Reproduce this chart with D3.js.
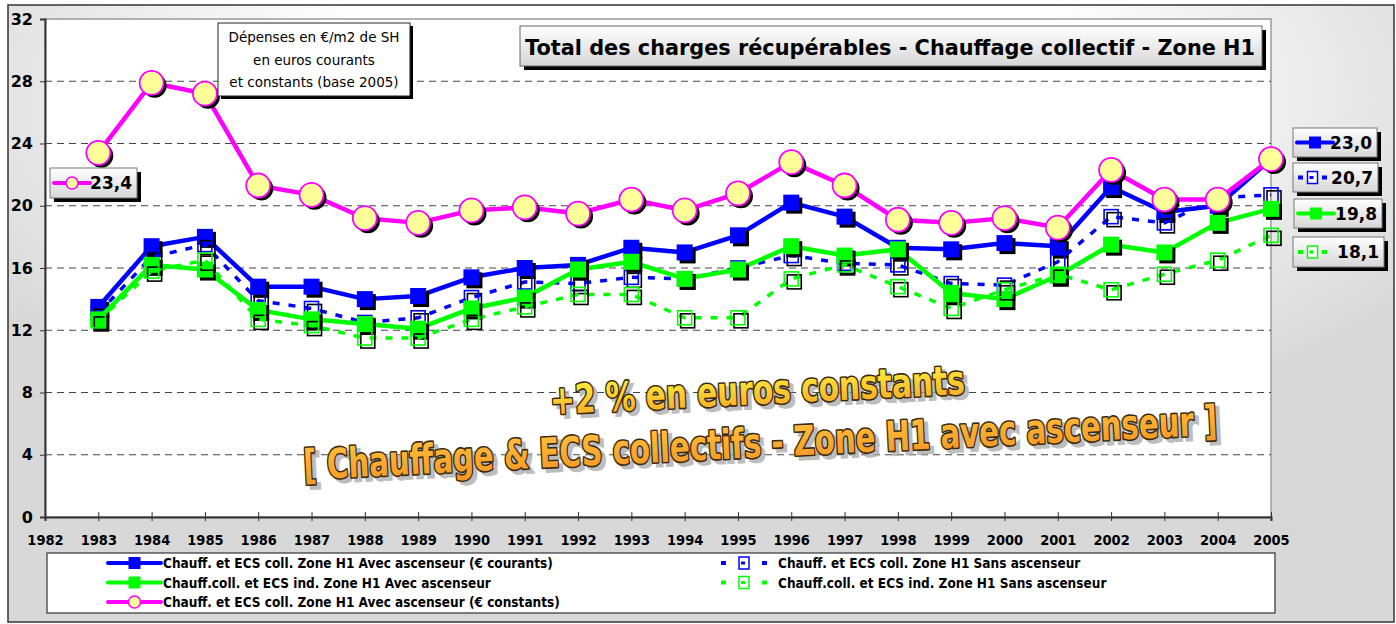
<!DOCTYPE html>
<html>
<head>
<meta charset="utf-8">
<script src="https://cdn.jsdelivr.net/npm/d3@7"></script>
<style>
  body { margin: 0; background: #fff; }
  svg { display: block; font-family: "DejaVu Sans", sans-serif; }
</style>
</head>
<body>
<svg width="1396" height="624"></svg>
<script>
// values (€/m2 de SH)
const years = [1983, 1984, 1985, 1986, 1987, 1988, 1989, 1990, 1991, 1992, 1993, 1994,
               1995, 1996, 1997, 1998, 1999, 2000, 2001, 2002, 2003, 2004, 2005];
const blueAvec = [13.5, 17.4, 18.0, 14.8, 14.8, 14.0, 14.2, 15.4, 16.0, 16.2, 17.3, 17.0,
                  18.1, 20.2, 19.3, 17.3, 17.2, 17.6, 17.4, 21.2, 19.6, 20.0, 23.0];
const blueSans = [13.1, 16.7, 17.5, 13.9, 13.4, 12.5, 12.8, 14.1, 15.1, 15.0, 15.4, 15.3,
                  16.0, 16.8, 16.3, 16.2, 15.0, 14.9, 16.4, 19.3, 18.9, 20.5, 20.7];
const greenAvec = [12.7, 16.2, 15.9, 13.3, 12.7, 12.4, 12.1, 13.4, 14.1, 15.9, 16.4, 15.3,
                   15.9, 17.4, 16.8, 17.2, 14.4, 14.0, 15.5, 17.5, 17.0, 18.9, 19.8];
const greenSans = [12.6, 15.8, 16.5, 12.7, 12.3, 11.5, 11.5, 12.7, 13.5, 14.3, 14.3, 12.8,
                   12.8, 15.3, 16.2, 14.8, 13.4, 14.6, 15.6, 14.6, 15.6, 16.5, 18.1];
const constants = [23.4, 27.9, 27.2, 21.3, 20.7, 19.2, 18.9, 19.7, 19.9, 19.5, 20.4, 19.7,
                   20.8, 22.8, 21.3, 19.1, 18.9, 19.2, 18.6, 22.3, 20.4, 20.4, 23.0];

const xTicks = d3.range(1982, 2006);
const yTicks = [0, 4, 8, 12, 16, 20, 24, 28, 32];

const seriesNames = [
  "Chauff. et ECS coll. Zone H1 Avec ascenseur (€ courants)",
  "Chauff. et ECS coll. Zone H1 Sans ascenseur",
  "Chauff.coll. et ECS ind. Zone H1 Avec ascenseur",
  "Chauff.coll. et ECS ind. Zone H1 Sans ascenseur",
  "Chauff. et ECS coll. Zone H1 Avec ascenseur (€ constants)"
];

const titleText = "Total des charges récupérables - Chauffage collectif - Zone H1";
const noteLines = ["Dépenses en €/m2 de SH", "en euros courants", "et constants (base 2005)"];
const bigLine1 = "+2 % en euros constants";
const bigLine2 = "[ Chauffage & ECS collectifs - Zone H1 avec ascenseur ]";

const series = [
  {name: seriesNames[0], values: blueAvec, color: "#0000ff", dashed: false, marker: "square"},
  {name: seriesNames[1], values: blueSans, color: "#0000ff", dashed: true, marker: "hollow"},
  {name: seriesNames[2], values: greenAvec, color: "#00ff00", dashed: false, marker: "square"},
  {name: seriesNames[3], values: greenSans, color: "#00ff00", dashed: true, marker: "hollow"},
  {name: seriesNames[4], values: constants, color: "#ff00ff", dashed: false, marker: "circle"}
];

const svg = d3.select("svg");
const defs = svg.append("defs");

const bg = defs.append("radialGradient").attr("id", "bg")
    .attr("cx", 0.5).attr("cy", 0.15).attr("r", 0.62);
bg.append("stop").attr("offset", 0.45).attr("stop-color", "#ffffff");
bg.append("stop").attr("offset", 0.95).attr("stop-color", "#dadada");
bg.append("stop").attr("offset", 1).attr("stop-color", "#d8d8d8");

const boxGrad = defs.append("linearGradient").attr("id", "boxGrad")
    .attr("x1", 0).attr("y1", 0).attr("x2", 0).attr("y2", 1);
boxGrad.append("stop").attr("offset", 0).attr("stop-color", "#ffffff");
boxGrad.append("stop").attr("offset", 1).attr("stop-color", "#d6d6d6");

const yellowGrad = defs.append("linearGradient").attr("id", "yellowGrad")
    .attr("x1", 0).attr("y1", 0).attr("x2", 0).attr("y2", 1);
yellowGrad.append("stop").attr("offset", 0.2).attr("stop-color", "#ffe83a");
yellowGrad.append("stop").attr("offset", 1).attr("stop-color", "#f5a324");

const orangeGrad = defs.append("linearGradient").attr("id", "orangeGrad")
    .attr("x1", 0).attr("y1", 0).attr("x2", 0).attr("y2", 1);
orangeGrad.append("stop").attr("offset", 0).attr("stop-color", "#ffc340");
orangeGrad.append("stop").attr("offset", 1).attr("stop-color", "#f39421");

// outer frame
svg.append("rect")
    .attr("x", 8).attr("y", 5).attr("width", 1386).attr("height", 617)
    .attr("fill", "url(#bg)").attr("stroke", "#333").attr("stroke-width", 1.5);

const x = d3.scaleLinear().domain([1982, 2005]).range([45, 1271]);
const y = d3.scaleLinear().domain([0, 32]).range([517, 19]);

// plot area
svg.append("rect")
    .attr("x", x(1982)).attr("y", y(32))
    .attr("width", x(2005) - x(1982)).attr("height", y(0) - y(32))
    .attr("fill", "#fff").attr("stroke", "#9a9a9a").attr("stroke-width", 1.5);

// grid
svg.append("g")
  .selectAll("line")
  .data(yTicks.filter(d => d > 0 && d < 32)).enter()
  .append("line")
    .attr("x1", x(1982)).attr("x2", x(2005))
    .attr("y1", d => y(d)).attr("y2", d => y(d))
    .attr("stroke", "#444").attr("stroke-dasharray", "7,5");

// axes
const yAxis = d3.axisLeft(y).tickValues(yTicks).tickSize(5).tickPadding(7);
const yg = svg.append("g")
    .attr("transform", "translate(" + x(1982) + ",0)")
    .call(yAxis);
yg.select(".domain").attr("stroke", "#333").attr("stroke-width", 2);
yg.selectAll(".tick line").attr("stroke", "#333");
yg.selectAll("text")
    .attr("font-family", "DejaVu Sans").attr("font-weight", "bold")
    .attr("font-size", 16).attr("fill", "#000");

const xAxis = d3.axisBottom(x).tickValues(xTicks).tickFormat(d3.format("d")).tickSize(4);
const xg = svg.append("g")
    .attr("transform", "translate(0," + y(0) + ")")
    .call(xAxis);
xg.select(".domain").attr("stroke", "#333").attr("stroke-width", 2);
xg.selectAll(".tick line").attr("stroke", "#333").attr("y1", -5);
xg.selectAll("text")
    .attr("font-family", "DejaVu Sans Condensed").attr("font-weight", "bold")
    .attr("font-size", 14.5).attr("fill", "#000")
    .attr("y", 28).attr("dy", 0);

// big orange annotation
const bigText = (txt, cx, cy, size, len, grad) => {
  const g = svg.append("g").attr("transform", "rotate(-2.8," + cx + "," + cy + ")");
  const attrs = sel => sel
      .attr("text-anchor", "middle")
      .attr("font-family", "DejaVu Sans Condensed").attr("font-weight", "bold")
      .attr("font-size", size)
      .attr("textLength", len).attr("lengthAdjust", "spacingAndGlyphs")
      .text(txt);
  g.append("text")
      .attr("x", cx + 4).attr("y", cy + 4)
      .attr("fill", "#a8a8a8").attr("stroke", "#a8a8a8").attr("stroke-width", 3)
      .attr("opacity", 0.75)
      .call(attrs);
  g.append("text")
      .attr("x", cx).attr("y", cy)
      .attr("fill", "url(#" + grad + ")")
      .attr("stroke", "#3a2a10").attr("stroke-width", 3.2)
      .attr("stroke-linejoin", "round")
      .attr("paint-order", "stroke")
      .call(attrs);
};
bigText(bigLine1, 758, 404, 40, 415, "yellowGrad");
bigText(bigLine2, 761, 457, 41, 915, "orangeGrad");

// series
const line = d3.line().x((d, i) => x(years[i])).y(d => y(d));

series.forEach(s => {
  const g = svg.append("g");
  g.append("path")
      .attr("d", line(s.values))
      .attr("fill", "none")
      .attr("stroke", s.color)
      .attr("stroke-width", s.dashed ? 3.5 : 4.5)
      .attr("stroke-dasharray", s.dashed ? "7,9" : null)
      .attr("stroke-linejoin", "round");

  const pts = s.values.map((v, i) => ({cx: x(years[i]), cy: y(v)}));
  if (s.marker === "circle") {
    g.selectAll(".sh").data(pts).enter().append("circle")
        .attr("cx", d => d.cx + 3).attr("cy", d => d.cy + 3).attr("r", 12)
        .attr("fill", "#000");
    g.selectAll(".mk").data(pts).enter().append("circle")
        .attr("cx", d => d.cx).attr("cy", d => d.cy).attr("r", 12)
        .attr("fill", "#ffff99").attr("stroke", s.color).attr("stroke-width", 1.8);
  } else if (s.marker === "square") {
    const h = 8;
    g.selectAll(".sh").data(pts).enter().append("rect")
        .attr("x", d => d.cx - h + 3).attr("y", d => d.cy - h + 3)
        .attr("width", 2 * h).attr("height", 2 * h).attr("fill", "#000");
    g.selectAll(".mk").data(pts).enter().append("rect")
        .attr("x", d => d.cx - h).attr("y", d => d.cy - h)
        .attr("width", 2 * h).attr("height", 2 * h).attr("fill", s.color);
  } else {
    const h = 7;
    g.selectAll(".sh").data(pts).enter().append("rect")
        .attr("x", d => d.cx - h + 3).attr("y", d => d.cy - h + 3)
        .attr("width", 2 * h).attr("height", 2 * h)
        .attr("fill", "none").attr("stroke", "#000").attr("stroke-width", 1.6);
    g.selectAll(".mk").data(pts).enter().append("rect")
        .attr("x", d => d.cx - h).attr("y", d => d.cy - h)
        .attr("width", 2 * h).attr("height", 2 * h)
        .attr("fill", "none").attr("stroke", s.color).attr("stroke-width", 1.6);
  }
});

// small legend key used in legend and data labels
const drawKey = (g, s, x0, x1, cy) => {
  const mid = (x0 + x1) / 2;
  if (s.dashed) {
    g.append("line").attr("x1", x0).attr("x2", x0 + 5).attr("y1", cy).attr("y2", cy)
        .attr("stroke", s.color).attr("stroke-width", 4);
    g.append("line").attr("x1", x1 - 5).attr("x2", x1).attr("y1", cy).attr("y2", cy)
        .attr("stroke", s.color).attr("stroke-width", 4);
    g.append("rect").attr("x", mid - 5).attr("y", cy - 6).attr("width", 10).attr("height", 12)
        .attr("fill", "#fff").attr("stroke", s.color).attr("stroke-width", 1.5);
    g.append("line").attr("x1", mid - 3).attr("x2", mid + 1).attr("y1", cy).attr("y2", cy)
        .attr("stroke", s.color).attr("stroke-width", 3);
  } else {
    g.append("line").attr("x1", x0).attr("x2", x1).attr("y1", cy).attr("y2", cy)
        .attr("stroke", s.color).attr("stroke-width", 4).attr("stroke-linecap", "round");
    if (s.marker === "circle") {
      g.append("circle").attr("cx", mid).attr("cy", cy).attr("r", 6)
          .attr("fill", "#ffff99").attr("stroke", s.color).attr("stroke-width", 1.5);
    } else {
      g.append("rect").attr("x", mid - 6).attr("y", cy - 6).attr("width", 12).attr("height", 12)
          .attr("fill", s.color);
    }
  }
};

// data labels (first / last values)
const labelBoxes = [
  {s: 4, i: 0, x: 50, y: 168, w: 87, h: 30},
  {s: 0, i: 22, x: 1293, y: 128, w: 84, h: 29},
  {s: 1, i: 22, x: 1293, y: 163, w: 85, h: 29},
  {s: 2, i: 22, x: 1294, y: 199, w: 88, h: 29},
  {s: 3, i: 22, x: 1293, y: 237, w: 91, h: 30}
];
const fmt = v => d3.format(".1f")(v).replace(".", ",");

labelBoxes.forEach(b => {
  const s = series[b.s];
  const g = svg.append("g");
  g.append("rect").attr("x", b.x + 4).attr("y", b.y + 4).attr("width", b.w).attr("height", b.h)
      .attr("fill", "#000");
  g.append("rect").attr("x", b.x).attr("y", b.y).attr("width", b.w).attr("height", b.h)
      .attr("fill", "url(#boxGrad)").attr("stroke", "#777").attr("stroke-width", 1);
  const cy = b.y + b.h / 2;
  drawKey(g, s, b.x + (s.dashed ? 5 : 4), b.x + (s.dashed ? 34 : 40), cy);
  g.append("text")
      .attr("x", b.x + b.w - 5).attr("y", cy + 6)
      .attr("text-anchor", "end")
      .attr("font-weight", "bold").attr("font-size", 17)
      .text(fmt(s.values[b.i]));
});

// note box
const note = svg.append("g");
note.append("rect").attr("x", 221).attr("y", 26).attr("width", 192).attr("height", 73)
    .attr("fill", "#000");
note.append("rect").attr("x", 218).attr("y", 23).attr("width", 192).attr("height", 73)
    .attr("fill", "#fff").attr("stroke", "#222").attr("stroke-width", 1);
note.selectAll("text").data(noteLines).enter().append("text")
    .attr("x", 314).attr("y", (d, i) => 42 + i * 22.5)
    .attr("text-anchor", "middle")
    .attr("font-size", 13.5)
    .text(d => d);

// title box
const tg = svg.append("g");
tg.append("rect").attr("x", 524).attr("y", 30).attr("width", 742).attr("height", 40)
    .attr("fill", "#000");
tg.append("rect").attr("x", 520).attr("y", 26).attr("width", 742).attr("height", 40)
    .attr("fill", "url(#boxGrad)").attr("stroke", "#666").attr("stroke-width", 1);
tg.append("text")
    .attr("x", 525).attr("y", 55)
    .attr("font-weight", "bold").attr("font-size", 22)
    .attr("textLength", 730).attr("lengthAdjust", "spacingAndGlyphs")
    .text(titleText);

// legend
const lg = svg.append("g");
lg.append("rect").attr("x", 47).attr("y", 553).attr("width", 1228).attr("height", 60)
    .attr("fill", "#fff").attr("stroke", "#333").attr("stroke-width", 1.2);
const legendPos = [
  {s: 0, col: 0, row: 0}, {s: 1, col: 1, row: 0},
  {s: 2, col: 0, row: 1}, {s: 3, col: 1, row: 1},
  {s: 4, col: 0, row: 2}
];
legendPos.forEach(p => {
  const s = series[p.s];
  const cy = 563 + p.row * 19.5;
  if (p.col === 0) {
    drawKey(lg, s, 108, 161, cy);
  } else {
    drawKey(lg, s, 721, 767, cy);
  }
  lg.append("text")
      .attr("x", p.col === 0 ? 163 : 778).attr("y", cy + 5)
      .attr("font-family", "DejaVu Sans Condensed").attr("font-weight", "bold")
      .attr("font-size", 13.5)
      .text(s.name);
});
</script>
</body>
</html>
